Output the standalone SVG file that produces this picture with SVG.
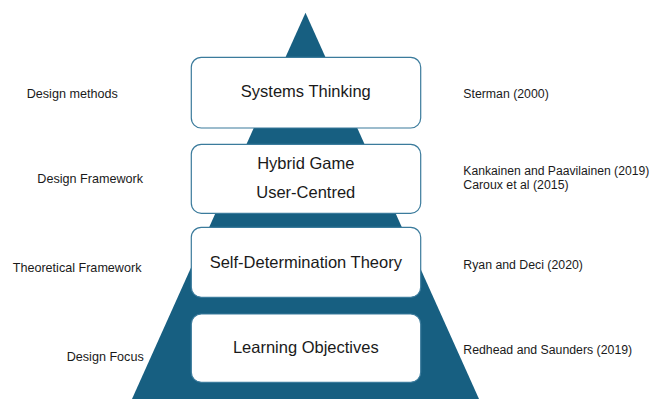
<svg xmlns="http://www.w3.org/2000/svg" width="654" height="399" viewBox="0 0 654 399">
  <style>
    .pyramid { fill: #175f81; }
    .box { fill: #ffffff; stroke: #3b7b9c; stroke-width: 1.2; }
    .label { font-family: "Liberation Sans", Arial, sans-serif; font-size: 16.5px; fill: #1a1a1a; text-anchor: middle; }
    .side { font-family: "Liberation Sans", Arial, sans-serif; font-size: 12.6px; fill: #1a1a1a; }
    .ref { font-family: "Liberation Sans", Arial, sans-serif; font-size: 12.3px; fill: #1a1a1a; }
  </style>
  <rect width="654" height="399" fill="#ffffff"/>

  <!-- pyramid backdrop -->
  <polygon class="pyramid" points="305.5,12.7 132,399 479,399"/>

  <!-- tiers, top to bottom -->
  <g id="systems-thinking">
    <rect class="box" x="191.3" y="57.3" width="229.4" height="70.7" rx="10"/>
    <text class="label" x="305.8" y="96.8">Systems Thinking</text>
  </g>
  <g id="hybrid-game">
    <rect class="box" x="191.3" y="144.3" width="229.4" height="69" rx="10"/>
    <text class="label" x="305.8" y="169">Hybrid Game</text>
    <text class="label" x="305.8" y="198.3">User-Centred</text>
  </g>
  <g id="self-determination">
    <rect class="box" x="191.3" y="227.3" width="229.4" height="70" rx="10"/>
    <text class="label" x="305.8" y="268.3">Self-Determination Theory</text>
  </g>
  <g id="learning-objectives">
    <rect class="box" x="191.3" y="314" width="229.4" height="68.3" rx="10"/>
    <text class="label" x="305.8" y="353.3">Learning Objectives</text>
  </g>

  <!-- layer names -->
  <g id="layer-names">
    <text class="side" x="26.7" y="97.7">Design methods</text>
    <text class="side" x="37.3" y="183.3">Design Framework</text>
    <text class="side" x="12.7" y="271.7">Theoretical Framework</text>
    <text class="side" x="66.7" y="361">Design Focus</text>
  </g>

  <!-- references -->
  <g id="references">
    <text class="ref" x="463.3" y="97.7">Sterman (2000)</text>
    <text class="ref" x="463.3" y="175" textLength="186" lengthAdjust="spacingAndGlyphs">Kankainen and Paavilainen (2019)</text>
    <text class="ref" x="463.3" y="189.3">Caroux et al (2015)</text>
    <text class="ref" x="463.3" y="269.3">Ryan and Deci (2020)</text>
    <text class="ref" x="463.3" y="354.3">Redhead and Saunders (2019)</text>
  </g>
</svg>
